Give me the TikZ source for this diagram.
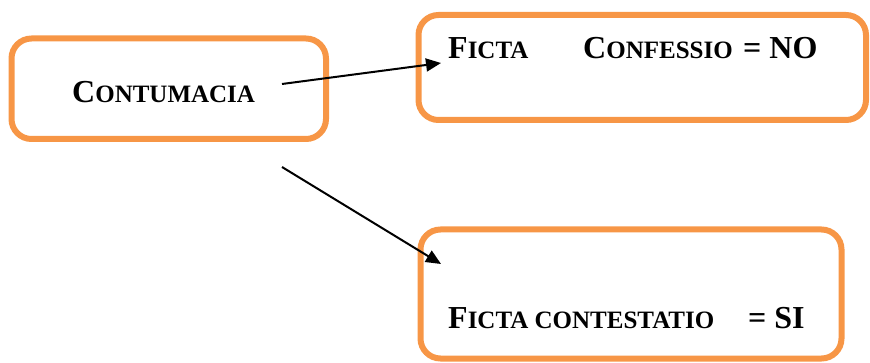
\documentclass[tikz,border=0pt]{standalone}
\usepackage{fontspec}
\setmainfont{Liberation Serif}
\usetikzlibrary{arrows.meta}
\newcommand\bigc[1]{{\fontsize{32}{38}\selectfont #1}}
\newcommand\smc[1]{{\fontsize{25}{30}\selectfont #1}}
\tikzset{
  box/.style={draw=boxorange, line width=6pt, rounded corners=20pt},
  lbl/.style={anchor=base west, inner sep=0pt, font=\bfseries},
  conn/.style={line width=2pt, -{Triangle[length=15pt,width=13pt]}}
}
\definecolor{boxorange}{HTML}{F79646}
\begin{document}
\begin{tikzpicture}[x=1pt,y=-1pt]
\useasboundingbox (0,0) rectangle (870,363);
% boxes
\draw[box] (11.5,38.5) rectangle (326,139);
\draw[box] (418.5,15) rectangle (866,120);
\draw[box] (420.5,229.5) rectangle (841.5,358.5);
% texts
\node[lbl] (t1) at (72,103) {\bigc{C}\smc{ONTUMACIA}};
\node[lbl] (t2a) at (448,59) {\bigc{F}\smc{ICTA}};
\node[lbl] (t2b) at (583,59) {\bigc{C}\smc{ONFESSIO}};
\node[lbl] (t2c) at (743,59) {\bigc{= NO}};
\node[lbl] (t3a) at (448,328) {\bigc{F}\smc{ICTA CONTESTATIO}};
\node[lbl] (t3b) at (748,328) {\bigc{= SI}};
% connectors
\coordinate (a1s) at (282,84);
\coordinate (a1e) at (441,63);
\coordinate (a2s) at (282,167);
\coordinate (a2e) at (441,264);
\draw[conn] (a1s) -- (a1e);
\draw[conn] (a2s) -- (a2e);
\end{tikzpicture}
\end{document}
